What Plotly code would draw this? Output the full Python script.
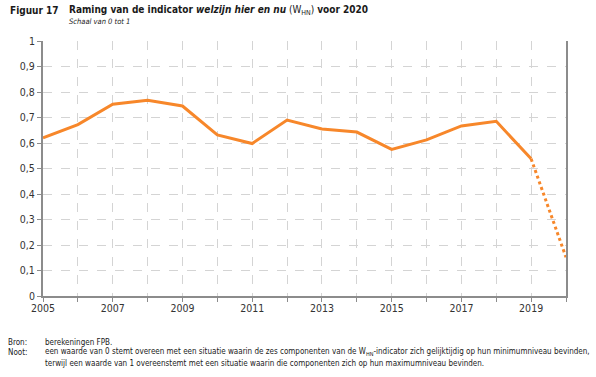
import plotly.graph_objects as go

years = list(range(2005, 2021))
values = [0.62, 0.672, 0.752, 0.768, 0.745, 0.632, 0.598, 0.69, 0.655, 0.643,
          0.575, 0.612, 0.667, 0.685, 0.538, 0.152]
x_tick_vals = [2005, 2007, 2009, 2011, 2013, 2015, 2017, 2019]
x_tick_labels = ["2005", "2007", "2009", "2011", "2013", "2015", "2017", "2019"]
y_tick_vals = [0, 0.1, 0.2, 0.3, 0.4, 0.5, 0.6, 0.7, 0.8, 0.9, 1]
y_tick_labels = ["0", "0,1", "0,2", "0,3", "0,4", "0,5", "0,6", "0,7", "0,8", "0,9", "1"]

orange = "#F7872A"
font = "DejaVu Sans Condensed, DejaVu Sans, sans-serif"
grid = "#d4d4d4"
axc = "#8c8c8c"

W, H = 596, 377
L, R, T, B = 43, 30, 41, 81

fig = go.Figure()
fig.add_trace(go.Scatter(x=years[:15], y=values[:15], mode="lines",
                         line=dict(color=orange, width=3), showlegend=False))
fig.add_trace(go.Scatter(x=years[14:], y=values[14:], mode="lines",
                         line=dict(color=orange, width=3, dash="dot"), showlegend=False))

fig.update_layout(
    width=W, height=H,
    margin=dict(l=L, r=R, t=T, b=B, autoexpand=False),
    paper_bgcolor="white", plot_bgcolor="white",
    font=dict(family=font, size=11, color="#333333"),
    xaxis=dict(range=[2005, 2020], tickvals=x_tick_vals, ticktext=x_tick_labels,
               showgrid=True, gridcolor=grid, griddash="dash", gridwidth=1,
               showline=True, linecolor=axc, linewidth=2,
               ticks="outside", ticklen=4, tickcolor=axc,
               ticklabelstandoff=-3,
               minor=dict(tick0=2005, dtick=1, ticks="outside", ticklen=4, tickcolor=axc,
                          showgrid=True, gridcolor=grid, griddash="dash", gridwidth=1),
               zeroline=False, tickfont=dict(size=10.5, color="#333333")),
    yaxis=dict(range=[0, 1], tickvals=y_tick_vals, ticktext=y_tick_labels,
               showgrid=True, gridcolor=grid, griddash="dash", gridwidth=1,
               showline=True, linecolor=axc, linewidth=2, mirror=True,
               ticks="outside", ticklen=4, tickcolor=axc,
               zeroline=False, tickfont=dict(size=10.5, color="#333333")),
)

ann = [
    dict(x=8, y=11, text="<b>Figuur 17</b>", size=10),
    dict(x=67, y=11, text="<b>Raming van de indicator <i>welzijn hier en nu</i></b> (W<sub>HN</sub>) <b>voor 2020</b>",
         size=10),
    dict(x=67, y=21, text="<i>Schaal van 0 tot 1</i>", size=7.5),
    dict(x=6, y=342, text="Bron:", size=8),
    dict(x=43, y=342, text="berekeningen FPB.", size=8),
    dict(x=6, y=352, text="Noot:", size=8),
    dict(x=43, y=352, text="een waarde van 0 stemt overeen met een situatie waarin de zes componenten van de W<sub>HN</sub>-indicator zich gelijktijdig op hun minimumniveau bevinden,",
         size=8),
    dict(x=43, y=363, text="terwijl een waarde van 1 overeenstemt met een situatie waarin die componenten zich op hun maximumniveau bevinden.",
         size=8),
]
for a in ann:
    px = (a["x"] - L) / (W - L - R)
    py = (H - B - a["y"]) / (H - T - B)
    fig.add_annotation(x=px, y=py, xref="paper", yref="paper",
                       xanchor="left", yanchor="middle", showarrow=False, text=a["text"],
                       font=dict(family=font, size=a["size"], color="#1a1a1a"))

fig.write_html("out.html", config={"displayModeBar": False},
               post_script="document.body.style.margin='0';document.body.style.overflow='hidden';")
